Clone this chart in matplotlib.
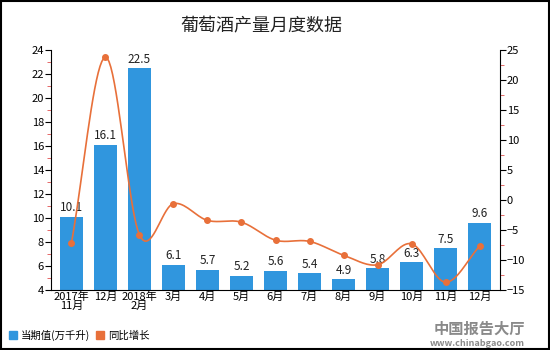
import numpy as np
import matplotlib.pyplot as plt
from matplotlib.patches import Patch
from matplotlib.ticker import MultipleLocator

plt.rcParams['font.family'] = ['Noto Sans CJK SC', 'DejaVu Sans']

months = ['2017年\n11月', '12月', '2018年\n2月', '3月', '4月', '5月', '6月',
          '7月', '8月', '9月', '10月', '11月', '12月']
output = [10.1, 16.1, 22.5, 6.1, 5.7, 5.2, 5.6, 5.4, 4.9, 5.8, 6.3, 7.5, 9.6]
growth = [-7.2, 23.8, -5.8, -0.6, -3.4, -3.7, -6.7, -6.9, -9.2, -10.8, -7.3, -13.7, -7.7]

bar_color = '#3096de'
line_color = '#e8703a'


def smooth(xs, ys, steps=20):
    # Catmull-Rom curve through the points
    xs = np.asarray(xs, float)
    ys = np.asarray(ys, float)
    px = np.concatenate([[2 * xs[0] - xs[1]], xs, [2 * xs[-1] - xs[-2]]])
    py = np.concatenate([[2 * ys[0] - ys[1]], ys, [2 * ys[-1] - ys[-2]]])
    out_x, out_y = [], []
    t = np.linspace(0, 1, steps)
    for i in range(1, len(px) - 2):
        for p, out in ((px, out_x), (py, out_y)):
            p0, p1, p2, p3 = p[i - 1], p[i], p[i + 1], p[i + 2]
            out.extend(0.5 * (2 * p1 + (-p0 + p2) * t
                              + (2 * p0 - 5 * p1 + 4 * p2 - p3) * t ** 2
                              + (-p0 + 3 * p1 - 3 * p2 + p3) * t ** 3))
    return np.array(out_x), np.array(out_y)


fig = plt.figure(figsize=(5.5, 3.5), dpi=100)
ax = fig.add_axes([51 / 550, 60 / 350, 449 / 550, 240 / 350])
x = np.arange(len(months))

ax.bar(x, output, width=0.66, color=bar_color, zorder=2)
for xi, v in zip(x, output):
    ax.text(xi, v + 0.2, f'{v:.1f}', ha='center', va='bottom', fontsize=8.5, color='#222222')

ax.set_ylim(4, 24)
ax.set_xlim(-0.6, len(months) - 0.4)
ax.yaxis.set_major_locator(MultipleLocator(2))
ax.yaxis.set_minor_locator(MultipleLocator(1))
ax.set_xticks(x)
ax.set_xticklabels(months, fontsize=8, linespacing=0.95)
ax.tick_params(axis='x', length=0, pad=1)
ax.tick_params(axis='y', which='major', labelsize=8, length=4, width=0.8, pad=1)
ax.tick_params(axis='y', which='minor', length=3, color='#e05050')
ax.spines['top'].set_visible(False)
ax.spines['right'].set_visible(False)

ax2 = ax.twinx()
ax2.set_ylim(-15, 25)
ax2.yaxis.set_major_locator(MultipleLocator(5))
ax2.yaxis.set_minor_locator(MultipleLocator(2.5))
ax2.tick_params(axis='y', which='major', labelsize=8, length=4, width=0.8, pad=1)
ax2.tick_params(axis='y', which='minor', length=3, color='#e05050')
for s in ('top', 'left', 'bottom'):
    ax2.spines[s].set_visible(False)

sx, sy = smooth(x, growth)
ax2.plot(sx, sy, color=line_color, lw=1.2, zorder=3)
ax2.plot(x, growth, 'o', color=line_color, ms=4, zorder=4)

fig.text(261 / 550, 0.925, '葡萄酒产量月度数据', ha='center', va='center',
         fontsize=13, color='#222222')

handles = [Patch(color=bar_color, label='当期值(万千升)'),
           Patch(color=line_color, label='同比增长')]
fig.legend(handles=handles, loc='lower left', bbox_to_anchor=(0.0, 0.0), ncol=2,
           frameon=False, fontsize=7.5, handlelength=0.7, handleheight=0.7,
           handletextpad=0.4, columnspacing=0.6)

# site mark in the bottom-right corner
fig.text(0.955, 0.062, '中国报告大厅', ha='right', va='center', fontsize=11,
         color='#8a8a8a', fontweight='bold')
fig.text(0.955, 0.02, 'www.chinabgao.com', ha='right', va='center', fontsize=6.5,
         color='#8a8a8a', fontweight='bold')

# outer frame
fig.patches.append(plt.Rectangle((0.002, 0.003), 0.996, 0.994, transform=fig.transFigure,
                                 fill=False, edgecolor='black', lw=1.5))

fig.savefig('out.png', dpi=100)
